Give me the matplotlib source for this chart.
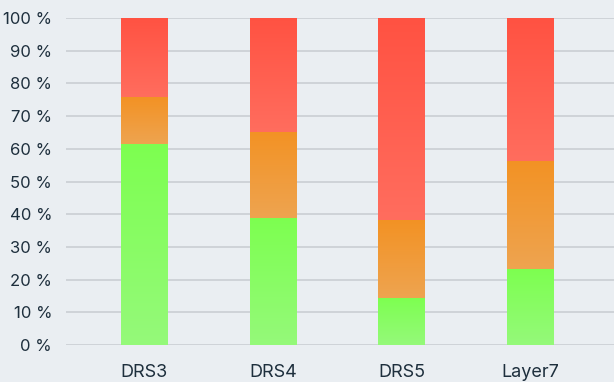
import matplotlib.pyplot as plt
import numpy as np
from matplotlib.colors import LinearSegmentedColormap

plt.rcParams['font.family'] = ['Inter', 'DejaVu Sans']

# shares per group (percent), stacked bottom to top
categories = ['DRS3', 'DRS4', 'DRS5', 'Layer7']
green = [61.5, 38.8, 14.5, 23.2]
orange = [14.3, 26.3, 23.7, 33.1]
red = [24.2, 34.9, 61.8, 43.7]
yticks = [0, 10, 20, 30, 40, 50, 60, 70, 80, 90, 100]

# (top colour, bottom colour) for each segment's vertical gradient
shades = [('#7dff50', '#95f97a'),
          ('#f39224', '#eea450'),
          ('#ff5242', '#ff6d5e')]

bg = '#eaeef2'
fig = plt.figure(figsize=(6.14, 3.82), dpi=100, facecolor=bg)
ax = fig.add_axes([66 / 614, 37 / 382, 548 / 614, 327 / 382], facecolor=bg)

width = 0.365
x = np.arange(len(categories))
grad = np.linspace(0, 1, 256).reshape(-1, 1)

bottom = np.zeros(len(categories))
for vals, (top_c, bot_c) in zip([green, orange, red], shades):
    cmap = LinearSegmentedColormap.from_list('seg', [bot_c, top_c])
    for i, v in enumerate(vals):
        ax.imshow(grad, cmap=cmap, origin='lower', aspect='auto',
                  extent=[x[i] - width / 2, x[i] + width / 2, bottom[i], bottom[i] + v],
                  zorder=3, interpolation='bilinear')
    bottom += np.array(vals)

ax.set_xlim(-0.61, 3.649)
ax.set_ylim(0, 100)
ax.set_yticks(yticks)
ax.set_yticklabels([f'{t} %' for t in yticks])
ax.set_xticks(x)
ax.set_xticklabels(categories)
ax.tick_params(axis='y', length=0, pad=10, labelsize=12, labelcolor='#1e2f3d')
ax.tick_params(axis='x', length=0, pad=14, labelsize=13, labelcolor='#1e2f3d')
ax.grid(axis='y', color='#cdd1d6', linewidth=1.3, zorder=0)
ax.set_axisbelow(True)
for s in ax.spines.values():
    s.set_visible(False)

plt.savefig('out.png', dpi=100, facecolor=bg)
